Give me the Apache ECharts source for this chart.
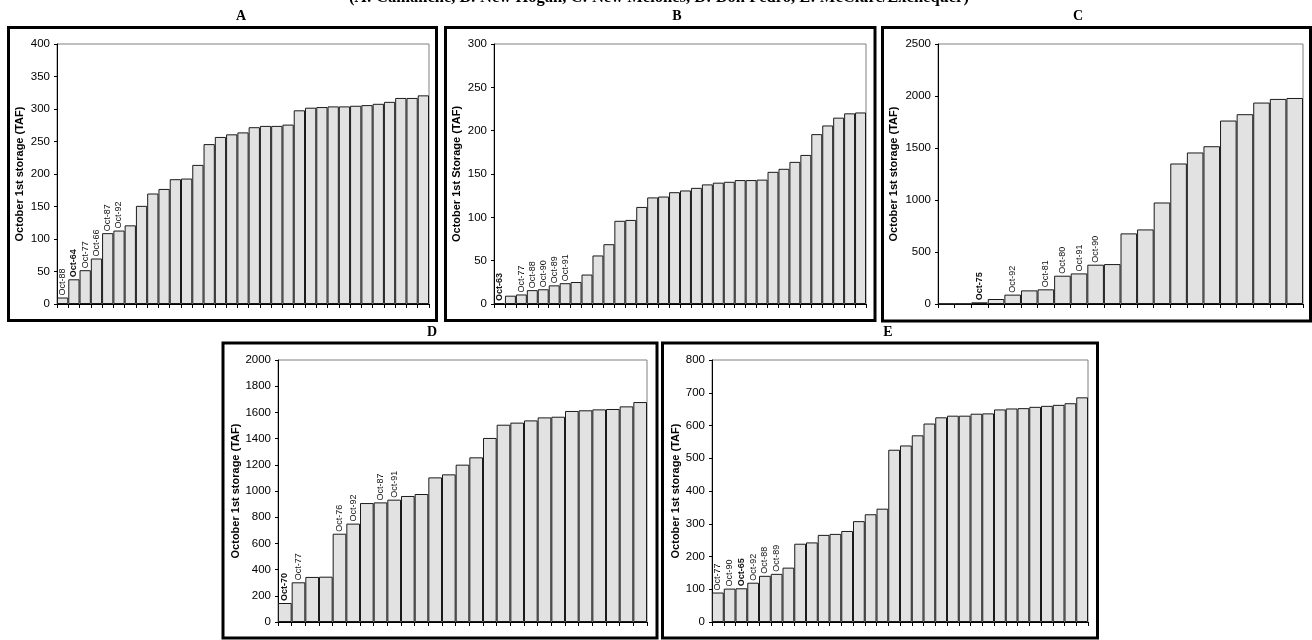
<!DOCTYPE html>
<html><head><meta charset="utf-8">
<script src="https://cdn.jsdelivr.net/npm/echarts@6/dist/echarts.min.js"></script>
<style>html,body{margin:0;padding:0;background:#fff}#c{width:1312px;height:640px}</style>
</head><body><div id="c"></div>
<script>
// ---- data (values in TAF, ranked ascending) ----
const valuesA = [10, 38, 52, 70, 109, 113, 121, 151, 170, 177, 192, 193, 214, 246, 257, 261, 264, 272, 274, 274, 276, 298, 302, 303, 304, 304, 305, 306, 308, 311, 317, 317, 321];
const labelsA = ['Oct-88', 'Oct-64', 'Oct-77', 'Oct-66', 'Oct-87', 'Oct-92'];
const boldA = 'Oct-64';

const valuesB = [1, 9.6, 11, 16, 17, 21.5, 24, 25.4, 34, 56, 69, 96, 97, 112, 123, 124, 129, 131, 134, 138, 140, 141, 143, 143, 143.5, 152.5, 156, 164, 172, 196, 206, 215, 220, 221];
const labelsB = ['Oct-63', '', 'Oct-77', 'Oct-88', 'Oct-90', 'Oct-89', 'Oct-91'];
const boldB = 'Oct-63';

const valuesC = [2, 2, 16, 48, 90, 131, 141, 272, 294, 378, 384, 679, 717, 976, 1351, 1457, 1517, 1764, 1825, 1937, 1972, 1981];
const labelsC = ['', '', 'Oct-75', '', 'Oct-92', '', 'Oct-81', 'Oct-80', 'Oct-91', 'Oct-90'];
const boldC = 'Oct-75';

const valuesD = [145, 303, 344, 346, 674, 751, 908, 913, 934, 962, 977, 1104, 1127, 1201, 1257, 1405, 1506, 1522, 1539, 1562, 1567, 1611, 1616, 1623, 1626, 1646, 1679];
const labelsD = ['Oct-70', 'Oct-77', '', '', 'Oct-76', 'Oct-92', '', 'Oct-87', 'Oct-91'];
const boldD = 'Oct-70';

const valuesE = [90, 102, 103, 120, 141, 147, 166, 239, 243, 266, 269, 278, 308, 329, 346, 526, 539, 570, 606, 625, 630, 630, 636, 637, 649, 652, 653, 657, 660, 663, 668, 686];
const labelsE = ['Oct-77', 'Oct-90', 'Oct-65', 'Oct-92', 'Oct-88', 'Oct-89'];
const boldE = 'Oct-65';

const panelTitles = ['A', 'B', 'C', 'D', 'E'];
const yNames = ['October 1st storage (TAF)', 'October 1st Storage (TAF)', 'October 1st storage (TAF)', 'October 1st storage (TAF)', 'October 1st storage (TAF)'];
const yMax = [400, 300, 2500, 2000, 800];
const yStep = [50, 50, 500, 200, 100];
const mainTitle = '(A: Camanche, B: New Hogan, C: New Melones, D: Don Pedro, E: McClure/Exchequer)';

// ---- layout ----
const SANS = '"Liberation Sans", Arial, sans-serif';
const SERIF = '"Liberation Serif", "Times New Roman", serif';
const grids = [
  {left: 57, top: 44, width: 372, height: 260},
  {left: 494, top: 44, width: 372, height: 260},
  {left: 938, top: 44, width: 365, height: 260},
  {left: 278, top: 360, width: 369, height: 262},
  {left: 712, top: 360, width: 376, height: 262}
];
const nameGaps = [32, 32, 39, 37, 31];
const boxes = [
  [8.5, 27.5, 428, 293],
  [445.5, 27.5, 429.5, 293],
  [882.5, 27.5, 428, 293.5],
  [223, 343, 434, 295],
  [662.5, 343, 435, 295]
];
const titlePos = [[241, 16], [677, 16], [1078, 16], [432, 332], [888, 332]];

const panels = [
  [valuesA, labelsA, boldA],
  [valuesB, labelsB, boldB],
  [valuesC, labelsC, boldC],
  [valuesD, labelsD, boldD],
  [valuesE, labelsE, boldE]
];

const option = {
  animation: false,
  backgroundColor: '#fff',
  grid: grids.map(g => Object.assign({show: true, borderColor: '#808080', borderWidth: 1, backgroundColor: 'transparent'}, g)),
  xAxis: panels.map((p, i) => ({
    type: 'category', gridIndex: i,
    data: p[0].map((_, k) => String(k + 1)),
    boundaryGap: true,
    axisLine: {lineStyle: {color: '#000', width: 1}},
    axisTick: {show: true, inside: false, length: 4, interval: 0, lineStyle: {color: '#000'}},
    axisLabel: {show: false},
    splitLine: {show: false}
  })),
  yAxis: panels.map((p, i) => ({
    type: 'value', gridIndex: i, min: 0, max: yMax[i], interval: yStep[i],
    name: yNames[i], nameLocation: 'middle', nameGap: nameGaps[i],
    nameTextStyle: {fontFamily: SANS, fontWeight: 'bold', fontSize: 11, color: '#000'},
    axisLine: {show: true, lineStyle: {color: '#000', width: 1}},
    axisTick: {show: true, inside: false, length: 3, lineStyle: {color: '#000'}},
    axisLabel: {fontFamily: SANS, fontSize: 11.5, color: '#000', margin: 7, formatter: v => String(v)},
    splitLine: {show: false}
  })),
  series: panels.map((p, i) => ({
    type: 'bar', xAxisIndex: i, yAxisIndex: i,
    barCategoryGap: '0%',
    itemStyle: {color: '#e2e2e2', borderColor: '#1a1a1a', borderWidth: 1},
    data: p[0].map((v, k) => {
      const lab = p[1][k] || '';
      const item = {value: v};
      if (lab) {
        item.label = {
          show: true, formatter: lab, position: 'top', distance: 2,
          rotate: 90, align: 'left', verticalAlign: 'middle',
          fontFamily: SANS, fontSize: 9, color: '#111',
          fontWeight: lab === p[2] ? 'bold' : 'normal'
        };
      }
      return item;
    })
  })),
  graphic: [].concat(
    boxes.map(b => ({
      type: 'rect', shape: {x: b[0], y: b[1], width: b[2], height: b[3]},
      style: {fill: 'none', stroke: '#000', lineWidth: 3}, z: 100
    })),
    panelTitles.map((t, i) => ({
      type: 'text', x: titlePos[i][0], y: titlePos[i][1],
      style: {text: t, font: 'bold 14px ' + SERIF, fill: '#000', align: 'center', verticalAlign: 'middle'}
    })),
    [{
      type: 'text', x: 659, y: -2,
      style: {text: mainTitle, font: 'bold 16.5px ' + SERIF, fill: '#000', align: 'center', verticalAlign: 'middle'}
    }]
  )
};

const chart = echarts.init(document.getElementById('c'), null, {renderer: 'canvas'});
chart.setOption(option);
</script>
</body></html>
